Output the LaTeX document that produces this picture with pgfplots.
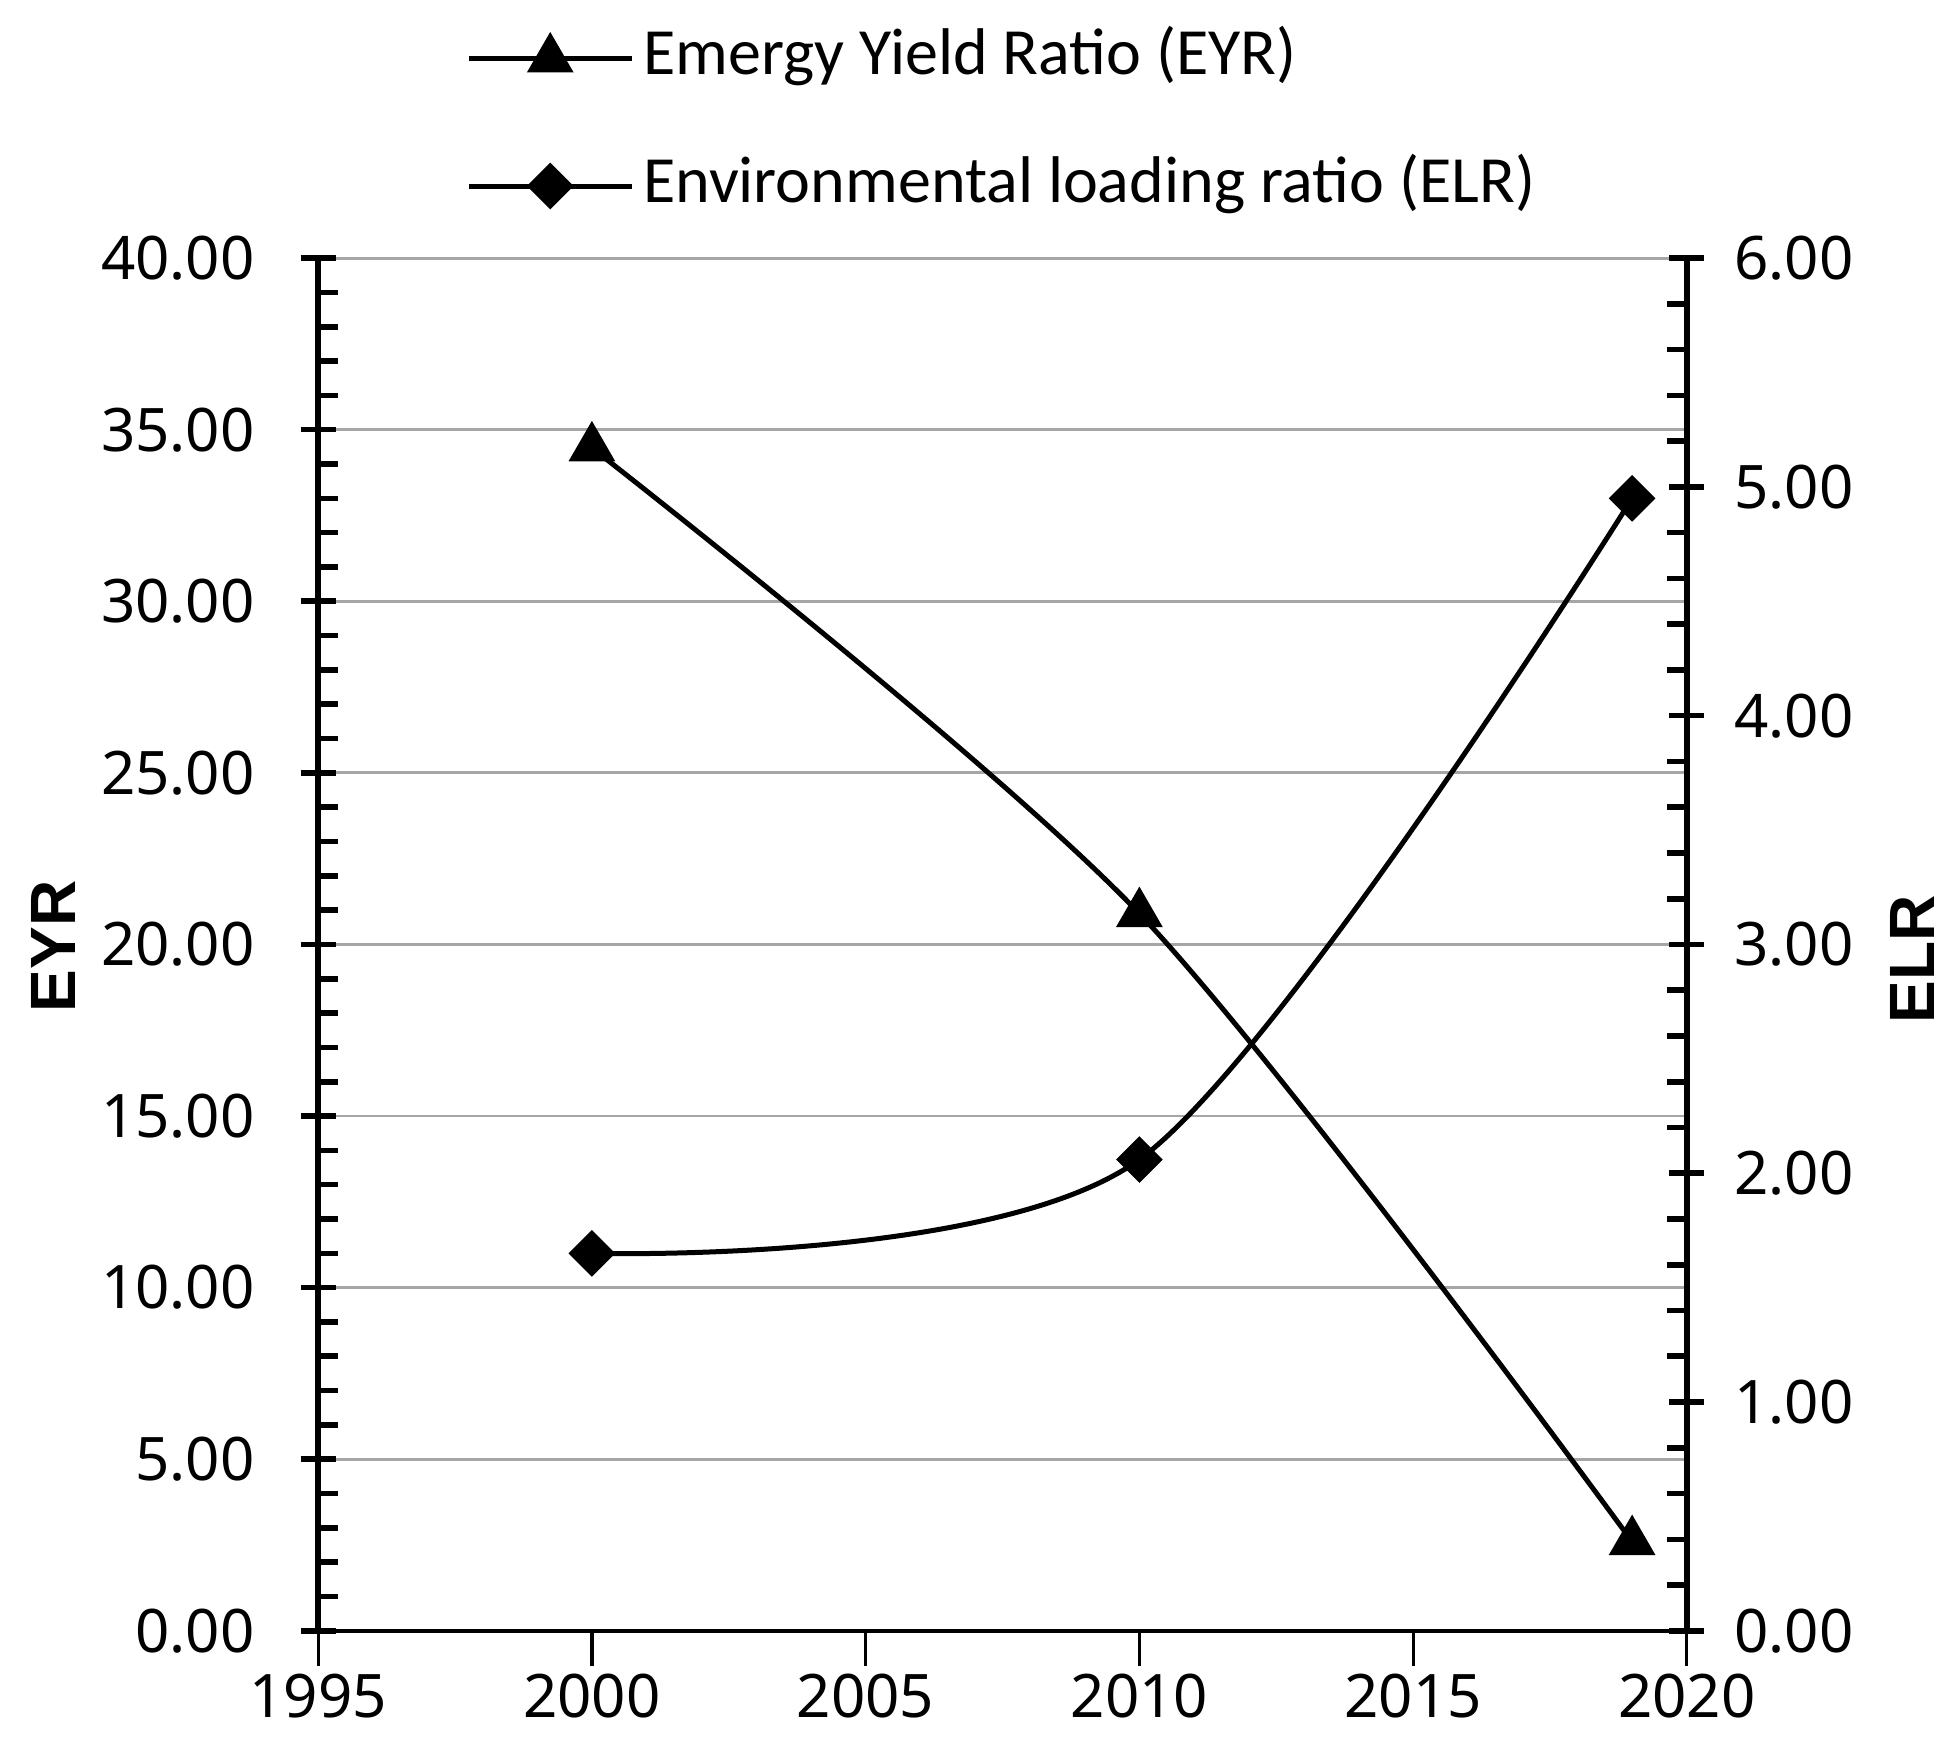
\documentclass[border=0pt]{standalone}
\usepackage{pgfplots}
\pgfplotsset{compat=1.18}
\usepackage{fontspec}
\setmainfont{Noto Sans}
\newfontfamily\legfont{Carlito}
\newfontfamily\labfont{Liberation Sans}

\pgfplotstableread{
year eyr elr
2000 34.47 1.65
2010 20.90 2.06
2019 2.60 4.95
}\datatable

\pgfplotsset{
  base/.style={
    scale only axis, width=342pt, height=343pt,
    xmin=1995, xmax=2020,
    font=\fontsize{15}{18}\selectfont,
    /pgf/number format/assume math mode=true,
    axis line style={-, line width=1.4pt},
    every outer x axis line/.append style={-},
    every outer y axis line/.append style={-},
    ytick align=center,
    major tick length=8.75pt,
    minor tick length=5pt,
    major tick style={line width=1.4pt, black},
    minor tick style={line width=1.4pt, black},
    yticklabel style={/pgf/number format/fixed, /pgf/number format/fixed zerofill, /pgf/number format/precision=2},
  },
}

\begin{document}
\begin{tikzpicture}
\path[use as bounding box] (-79.5pt,-30.5pt) rectangle (410.25pt,407.5pt);

% left axis: EYR
\begin{axis}[base,
  ymin=0, ymax=40, ytick distance=5, minor y tick num=4,
  axis y line*=left, axis x line*=bottom,
  x axis line style={line width=1pt},
  xtick={1995,2000,...,2020}, xtick align=outside,
  major x tick style={line width=0.8pt},
  xticklabel style={/pgf/number format/1000 sep={}, yshift=1.5pt},
  yticklabel style={xshift=-8pt},
  minor y tick style={xshift=2.5pt},
  ymajorgrids, grid style={gray!70, line width=0.7pt},
  every axis y label/.style={at={(axis description cs:-0.1937,0.4985)}, rotate=90, anchor=center},
  ylabel={\labfont\bfseries\fontsize{16}{18}\selectfont EYR},
]
\addplot[black, line width=1.25pt, smooth, mark=triangle*, mark size=5.5pt] table[x=year, y=eyr] {\datatable};
\end{axis}

% right axis: ELR
\begin{axis}[base,
  ymin=0, ymax=6, ytick distance=1, minor y tick num=4,
  axis y line*=right, axis x line=none,
  minor y tick style={xshift=-2.5pt},
  yticklabel style={xshift=4pt},
  every axis y label/.style={at={(axis description cs:1.165,0.489)}, rotate=90, anchor=center},
  ylabel={\labfont\bfseries\fontsize{16}{18}\selectfont ELR},
  legend style={at={(axis description cs:0.1075,1.169)}, anchor=north west,
    draw=none, fill=none, inner sep=0pt,
    font=\legfont\fontsize{16.5}{20}\selectfont,
    nodes={inner sep=0pt, text height=12pt, text depth=4pt},
    row sep=15.75pt, column sep=2.25pt},
  legend cell align=left,
  legend image code/.code={\draw[mark repeat=2, mark phase=2, #1] plot coordinates {(0pt,0pt) (20.4pt,0pt) (40.75pt,0pt)};},
]
\addlegendimage{black, line width=1.25pt, mark=triangle*, mark size=5.5pt}
\addlegendentry{Emergy Yield Ratio (EYR)}
\addplot[black, line width=1.25pt, smooth, mark=square*, mark size=3.5pt, mark options={rotate=45}] table[x=year, y=elr] {\datatable};
\addlegendentry{Environmental loading ratio (ELR)}
\end{axis}
\end{tikzpicture}
\end{document}
